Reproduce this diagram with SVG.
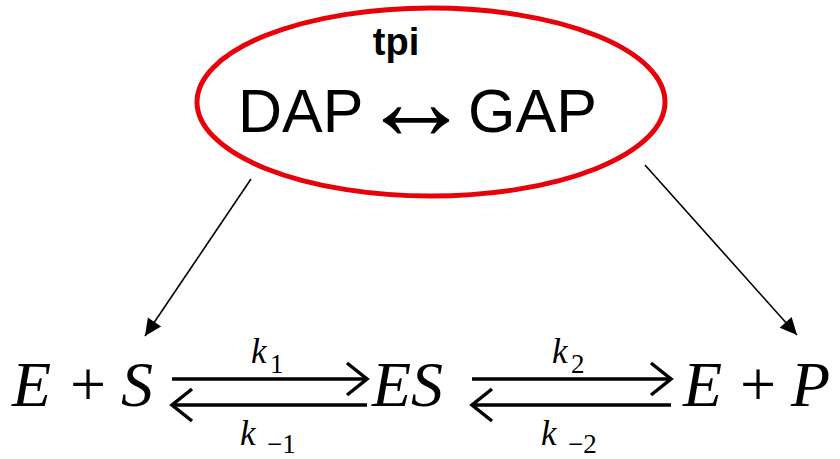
<svg xmlns="http://www.w3.org/2000/svg" width="840" height="459" viewBox="0 0 840 459">
<style>
.math{font-family:"Liberation Serif","Times New Roman",serif;font-style:italic;fill:#000}
.up{font-family:"Liberation Serif","Times New Roman",serif;fill:#000}
.big{font-size:64px}
.k{font-size:35px}
.s{font-size:27px}
.thick{stroke:#000;stroke-width:3.5;fill:none}
.thin{stroke:#000;stroke-width:1.6;fill:none}
</style>
<defs>
<marker id="chev" markerUnits="userSpaceOnUse" viewBox="-24 -20 28 40" markerWidth="28" markerHeight="40" refX="0" refY="0" orient="auto">
<path d="M-20,-16 L0,0 L-20,16" stroke="#000" stroke-width="3.5" fill="none"/>
</marker>
<marker id="tri" markerUnits="userSpaceOnUse" viewBox="-18 -9 20 18" markerWidth="20" markerHeight="18" refX="0" refY="0" orient="auto">
<path d="M-17,-8 L0,0 L-17,8 Z" fill="#000"/>
</marker>
</defs>
<g id="tpi-node">
<ellipse cx="431" cy="102" rx="234" ry="94" fill="#fff" stroke="#e8000a" stroke-width="5"/>
<text x="396" y="55" text-anchor="middle" font-family="Liberation Sans, Arial, sans-serif" font-weight="bold" font-size="38">tpi</text>
<text x="238" y="132" font-family="Liberation Sans, Arial, sans-serif" font-size="61">DAP</text>
<text x="416" y="139" text-anchor="middle" font-family="Liberation Serif, Times New Roman, serif" font-size="112">↔</text>
<text x="468" y="132" font-family="Liberation Sans, Arial, sans-serif" font-size="61">GAP</text>
</g>
<g id="ES-left">
<text class="math big" x="12" y="406">E</text>
<text class="up big" x="88" y="406" text-anchor="middle">+</text>
<text class="math big" x="121" y="406">S</text>
</g>
<g id="ES-complex">
<text class="math big" x="372" y="406">ES</text>
</g>
<g id="EP-right">
<text class="math big" x="683" y="406">E</text>
<text class="up big" x="758" y="406" text-anchor="middle">+</text>
<text class="math big" x="791" y="406">P</text>
</g>
<g id="labels">
<text class="math k" x="251" y="363">k</text><text class="up s" x="270" y="373">1</text>
<text class="math k" x="240" y="445">k</text><text class="up s" x="267" y="453">−1</text>
<text class="math k" x="552" y="363">k</text><text class="up s" x="571" y="373">2</text>
<text class="math k" x="541" y="445">k</text><text class="up s" x="568" y="453">−2</text>
</g>
<g id="connectors">
<line class="thick" x1="172" y1="379" x2="367" y2="379" marker-end="url(#chev)"/>
<line class="thick" x1="367" y1="405" x2="172" y2="405" marker-end="url(#chev)"/>
<line class="thick" x1="472" y1="379" x2="671" y2="379" marker-end="url(#chev)"/>
<line class="thick" x1="671" y1="405" x2="472" y2="405" marker-end="url(#chev)"/>
<line class="thin" x1="251" y1="179" x2="145" y2="336" marker-end="url(#tri)"/>
<line class="thin" x1="645" y1="165" x2="797" y2="335" marker-end="url(#tri)"/>
</g>
</svg>
